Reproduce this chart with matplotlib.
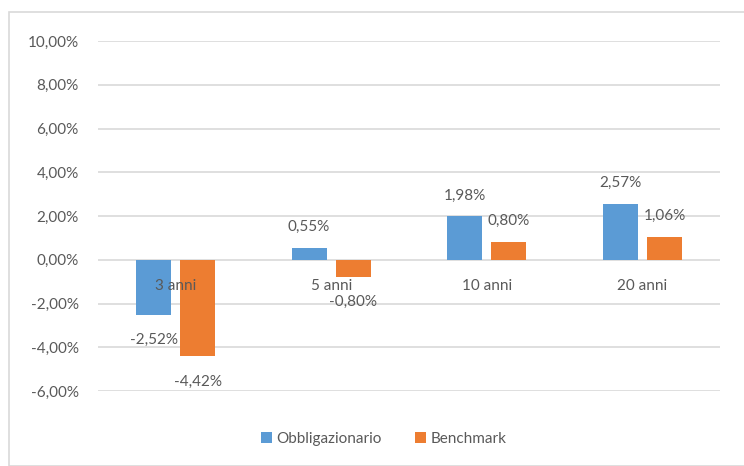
import matplotlib
matplotlib.use("Agg")
import matplotlib.pyplot as plt
from matplotlib.patches import Rectangle
import numpy as np

categories = ["3 anni", "5 anni", "10 anni", "20 anni"]
obblig = [-2.52, 0.55, 1.98, 2.57]
bench = [-4.42, -0.80, 0.80, 1.06]
series_names = ["Obbligazionario", "Benchmark"]
yticks = [-6, -4, -2, 0, 2, 4, 6, 8, 10]

plt.rcParams['font.family'] = ['Lato', 'DejaVu Sans']
txt = '#595959'
blue = '#5B9BD5'
orange = '#ED7D31'
fs = 11

fig = plt.figure(figsize=(7.44, 4.66), dpi=100)
ax = fig.add_axes([98/744, 1-391/466, (720-98)/744, (391-41)/466])

x = np.arange(len(categories))
w = 0.225
off = 0.143
b1 = ax.bar(x - off, obblig, w, color=blue, label=series_names[0], zorder=3)
b2 = ax.bar(x + off, bench, w, color=orange, label=series_names[1], zorder=3)

def fmt(v):
    return f"{v:.2f}".replace('.', ',') + '%'

for bars, vals in ((b1, obblig), (b2, bench)):
    for rect, v in zip(bars, vals):
        cx = rect.get_x() + rect.get_width() / 2
        if v >= 0:
            ax.annotate(fmt(v), (cx, v), xytext=(0, 21), textcoords='offset pixels',
                        ha='center', va='center', fontsize=fs, color=txt)
        else:
            ax.annotate(fmt(v), (cx, v), xytext=(0, -25), textcoords='offset pixels',
                        ha='center', va='center', fontsize=fs, color=txt)

for i, c in enumerate(categories):
    ax.annotate(c, (i, 0), xytext=(0, -26), textcoords='offset pixels',
                ha='center', va='center', fontsize=fs, color=txt)

ax.set_xlim(-0.5, len(categories) - 0.5)
ax.set_ylim(-6, 10)
ax.set_yticks(yticks)
ax.set_yticklabels([fmt(t) for t in yticks], fontsize=fs, color=txt)
ax.tick_params(axis='y', length=0, pad=14)
ax.set_xticks([])
ax.grid(axis='y', color='#D9D9D9', linewidth=1.2, zorder=0)
for s in ax.spines.values():
    s.set_visible(False)

leg = ax.legend(loc='center', bbox_to_anchor=(384/744, 1-439/466), bbox_transform=fig.transFigure,
                ncol=2, frameon=False, fontsize=fs, handlelength=0.7, handleheight=0.7,
                handletextpad=0.3, columnspacing=2.2)
for t in leg.get_texts():
    t.set_color(txt)

fig.patches.append(Rectangle((9/744, 0), 2, 1-12/466, transform=fig.transFigure,
                             fill=False, edgecolor='#D9D9D9', linewidth=1.2))

fig.savefig("out.png", dpi=100)
